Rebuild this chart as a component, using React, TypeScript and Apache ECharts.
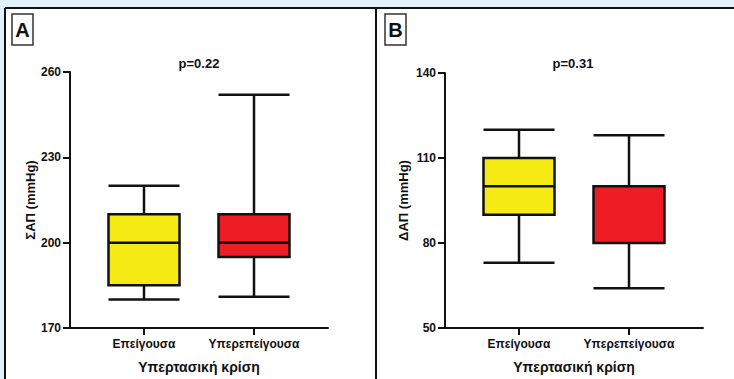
import React, { useEffect, useRef } from "react";
import * as echarts from "echarts";

const categories = ["Επείγουσα", "Υπερεπείγουσα"];
const categoryPositions = [1, 2];
// [min, Q1, median, Q3, max]
const sbpUrgency = [180, 185, 200, 210, 220];
const sbpEmergency = [181, 195, 200, 210, 252];
const dbpUrgency = [73, 90, 100, 110, 120];
const dbpEmergency = [64, 80, 100, 100, 118];
const sbpTicks = [170, 200, 230, 260];
const dbpTicks = [50, 80, 110, 140];
const pValues = ["p=0.22", "p=0.31"];
const panelLetters = ["A", "B"];
const yTitles = ["ΣΑΠ (mmHg)", "ΔΑΠ (mmHg)"];
const xTitle = "Υπερτασική κρίση";

const FONT = "'Liberation Sans', Arial, sans-serif";
const YELLOW = "#f5ea14";
const RED = "#ec1d25";
const LIGHTBLUE = "#e0f1f9";

export default function App() {
  const ref = useRef<HTMLDivElement>(null);
  useEffect(() => {
    if (!ref.current) return;
    const chart = echarts.init(ref.current, null, { renderer: "svg" });
    const xMin = 1 - 74 / 110;
    const xMax = 2 + 74 / 110;
    const makeX = (gridIndex: number) => ({
      type: "value",
      gridIndex,
      min: xMin,
      max: xMax,
      splitLine: { show: false },
      axisLine: { show: true, lineStyle: { color: "#111", width: 2 } },
      axisTick: {
        show: true,
        customValues: categoryPositions,
        length: 7,
        lineStyle: { color: "#111", width: 2 },
      },
      axisLabel: {
        customValues: categoryPositions,
        formatter: (v: number) => categories[Math.round(v) - 1] ?? "",
        color: "#111",
        fontFamily: FONT,
        fontWeight: "bold",
        fontSize: 12,
        margin: 10,
      },
      name: xTitle,
      nameLocation: "middle",
      nameGap: 32,
      nameTextStyle: { color: "#111", fontFamily: FONT, fontWeight: "bold", fontSize: 14 },
    });
    const makeY = (gridIndex: number, ticks: number[], title: string, gap: number) => ({
      type: "value",
      gridIndex,
      min: ticks[0],
      max: ticks[ticks.length - 1],
      splitLine: { show: false },
      axisLine: { show: true, lineStyle: { color: "#111", width: 2 } },
      axisTick: {
        show: true,
        customValues: ticks,
        length: 7,
        lineStyle: { color: "#111", width: 2 },
      },
      axisLabel: {
        customValues: ticks,
        color: "#111",
        fontFamily: FONT,
        fontWeight: "bold",
        fontSize: 12,
        margin: 9,
      },
      name: title,
      nameLocation: "middle",
      nameGap: gap,
      nameTextStyle: { color: "#111", fontFamily: FONT, fontWeight: "bold", fontSize: 13 },
    });
    const boxItem = (pos: number, vals: number[], color: string) => ({
      value: [pos, ...vals],
      itemStyle: { color, borderColor: "#111", borderWidth: 2.5 },
    });
    const makeSeries = (idx: number, a: number[], b: number[]) => ({
      type: "boxplot",
      layout: "horizontal",
      xAxisIndex: idx,
      yAxisIndex: idx,
      boxWidth: [71, 71],
      silent: true,
      itemStyle: { borderColor: "#111", borderWidth: 2.5 },
      emphasis: { disabled: true },
      data: [boxItem(categoryPositions[0], a, YELLOW), boxItem(categoryPositions[1], b, RED)],
    });
    const letterBox = (x: number, letter: string) => [
      {
        type: "rect",
        shape: { x, y: 14, width: 21, height: 31 },
        style: { fill: "#fff", stroke: "#333", lineWidth: 1.5 },
        z: 10,
      },
      {
        type: "text",
        x: x + 10.5,
        y: 30,
        style: {
          text: letter,
          fill: "#111",
          font: `bold 20px ${FONT}`,
          align: "center",
          verticalAlign: "middle",
        },
        z: 11,
      },
    ];
    chart.setOption({
      animation: false,
      backgroundColor: "#fff",
      grid: [
        { left: 70, top: 72, width: 258, height: 257 },
        { left: 445, top: 73, width: 258, height: 257 },
      ],
      xAxis: [makeX(0), makeX(1)],
      yAxis: [makeY(0, sbpTicks, yTitles[0], 33), makeY(1, dbpTicks, yTitles[1], 35)],
      series: [makeSeries(0, sbpUrgency, sbpEmergency), makeSeries(1, dbpUrgency, dbpEmergency)],
      graphic: [
        { type: "rect", shape: { x: 0, y: 0, width: 734, height: 8 }, style: { fill: LIGHTBLUE }, z: 5 },
        { type: "rect", shape: { x: 0, y: 0, width: 5, height: 379 }, style: { fill: LIGHTBLUE }, z: 5 },
        { type: "line", shape: { x1: 5, y1: 8, x2: 734, y2: 8 }, style: { stroke: "#111", lineWidth: 2 }, z: 6 },
        { type: "line", shape: { x1: 5, y1: 8, x2: 5, y2: 379 }, style: { stroke: "#111", lineWidth: 2 }, z: 6 },
        { type: "line", shape: { x1: 376, y1: 8, x2: 376, y2: 379 }, style: { stroke: "#111", lineWidth: 2 }, z: 6 },
        ...letterBox(12, panelLetters[0]),
        ...letterBox(385, panelLetters[1]),
        {
          type: "text",
          x: 199,
          y: 63,
          style: { text: pValues[0], fill: "#111", font: `bold 13px ${FONT}`, align: "center", verticalAlign: "middle" },
        },
        {
          type: "text",
          x: 573,
          y: 63,
          style: { text: pValues[1], fill: "#111", font: `bold 13px ${FONT}`, align: "center", verticalAlign: "middle" },
        },
      ],
    });
    return () => chart.dispose();
  }, []);
  return (
    <div
      ref={ref}
      style={{ position: "fixed", left: 0, top: 0, width: 734, height: 379 }}
    />
  );
}
